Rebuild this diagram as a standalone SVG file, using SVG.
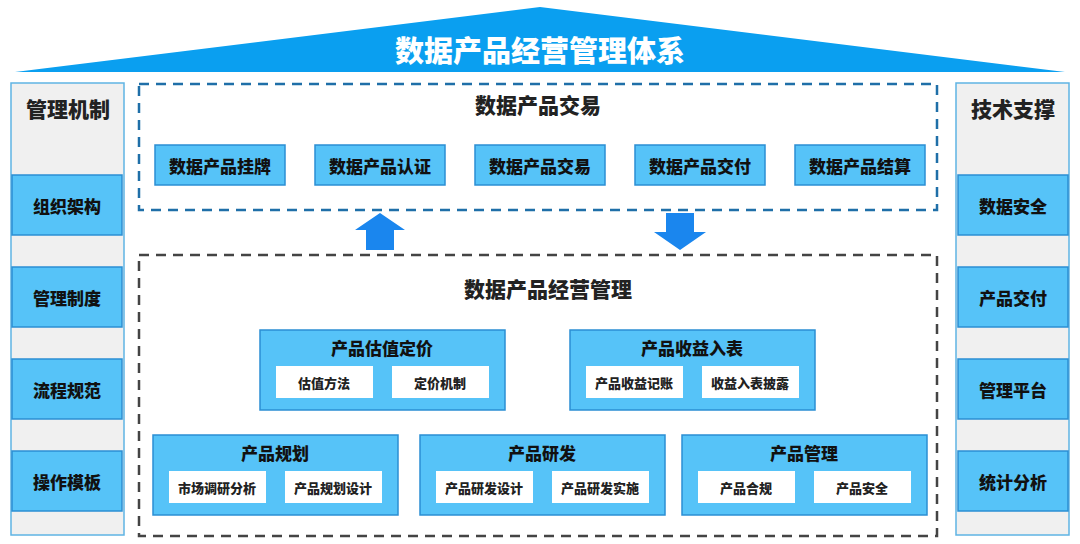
<svg xmlns="http://www.w3.org/2000/svg" width="1080" height="544" viewBox="0 0 1080 544">
<style>
text{font-family:"Noto Sans CJK SC","Noto Sans",sans-serif;font-weight:900;text-anchor:middle;dominant-baseline:central}
.side{fill:#f0f0f0;stroke:#5fb4e4;stroke-width:1.5}
.b{fill:#56c3f8;stroke:#2b8fd3;stroke-width:1.5}
.w{fill:#fff}
.t16{font-size:17px;fill:#111}
.t13{font-size:13px;fill:#222}
.h20{font-size:21px;fill:#222}
</style>
<rect width="1080" height="544" fill="#fff"/>
<g id="roof"><polygon points="15,72 540,7 1065,72" fill="#0a9ff0"/><text x="540" y="49" font-size="29" fill="#fff">数据产品经营管理体系</text></g>
<g id="left"><rect class="side" x="11" y="83" width="113" height="452"/><text class="h20" x="68" y="108">管理机制</text>
<rect class="b" x="12" y="175" width="110" height="60"/><text class="t16" x="67" y="205">组织架构</text>
<rect class="b" x="12" y="267" width="110" height="60"/><text class="t16" x="67" y="297">管理制度</text>
<rect class="b" x="12" y="359" width="110" height="60"/><text class="t16" x="67" y="389">流程规范</text>
<rect class="b" x="12" y="451" width="110" height="60"/><text class="t16" x="67" y="481">操作模板</text></g>
<g id="right"><rect class="side" x="956" y="83" width="113" height="452"/><text class="h20" x="1013" y="108">技术支撑</text>
<rect class="b" x="958" y="175" width="110" height="60"/><text class="t16" x="1013" y="205">数据安全</text>
<rect class="b" x="958" y="267" width="110" height="60"/><text class="t16" x="1013" y="297">产品交付</text>
<rect class="b" x="958" y="359" width="110" height="60"/><text class="t16" x="1013" y="389">管理平台</text>
<rect class="b" x="958" y="451" width="110" height="60"/><text class="t16" x="1013" y="481">统计分析</text></g>
<g id="trade"><rect x="139" y="84" width="798" height="126" fill="none" stroke="#1f6fa8" stroke-width="2.5" stroke-dasharray="10,7"/>
<text class="h20" x="538" y="104">数据产品交易</text>
<rect class="b" x="155" y="145" width="130" height="40"/><text class="t16" x="220" y="165">数据产品挂牌</text>
<rect class="b" x="315" y="145" width="130" height="40"/><text class="t16" x="380" y="165">数据产品认证</text>
<rect class="b" x="475" y="145" width="130" height="40"/><text class="t16" x="540" y="165">数据产品交易</text>
<rect class="b" x="635" y="145" width="130" height="40"/><text class="t16" x="700" y="165">数据产品交付</text>
<rect class="b" x="795" y="145" width="130" height="40"/><text class="t16" x="860" y="165">数据产品结算</text></g>
<g id="connectors" fill="#1a86ee"><polygon points="380,213 405,230 394,230 394,250 366,250 366,230 355,230"/><polygon points="666,213 694,213 694,232 706,232 680,250 654,232 666,232"/></g>
<g id="ops"><rect x="139" y="255" width="798" height="281" fill="none" stroke="#444" stroke-width="2.5" stroke-dasharray="10,7"/>
<text class="h20" x="548" y="288">数据产品经营管理</text>
<rect class="b" x="260" y="330" width="245" height="80"/><text class="t16" x="382" y="347">产品估值定价</text>
<rect class="w" x="276" y="366" width="97" height="32"/><text class="t13" x="324" y="382">估值方法</text>
<rect class="w" x="392" y="366" width="97" height="32"/><text class="t13" x="440" y="382">定价机制</text>
<rect class="b" x="570" y="330" width="245" height="80"/><text class="t16" x="692" y="347">产品收益入表</text>
<rect class="w" x="586" y="366" width="97" height="32"/><text class="t13" x="634" y="382">产品收益记账</text>
<rect class="w" x="702" y="366" width="97" height="32"/><text class="t13" x="750" y="382">收益入表披露</text>
<rect class="b" x="153" y="435" width="245" height="80"/><text class="t16" x="275" y="452">产品规划</text>
<rect class="w" x="169" y="471" width="97" height="32"/><text class="t13" x="217" y="487">市场调研分析</text>
<rect class="w" x="285" y="471" width="97" height="32"/><text class="t13" x="333" y="487">产品规划设计</text>
<rect class="b" x="420" y="435" width="245" height="80"/><text class="t16" x="542" y="452">产品研发</text>
<rect class="w" x="436" y="471" width="97" height="32"/><text class="t13" x="484" y="487">产品研发设计</text>
<rect class="w" x="552" y="471" width="97" height="32"/><text class="t13" x="600" y="487">产品研发实施</text>
<rect class="b" x="682" y="435" width="245" height="80"/><text class="t16" x="804" y="452">产品管理</text>
<rect class="w" x="698" y="471" width="97" height="32"/><text class="t13" x="746" y="487">产品合规</text>
<rect class="w" x="814" y="471" width="97" height="32"/><text class="t13" x="862" y="487">产品安全</text></g>
</svg>
